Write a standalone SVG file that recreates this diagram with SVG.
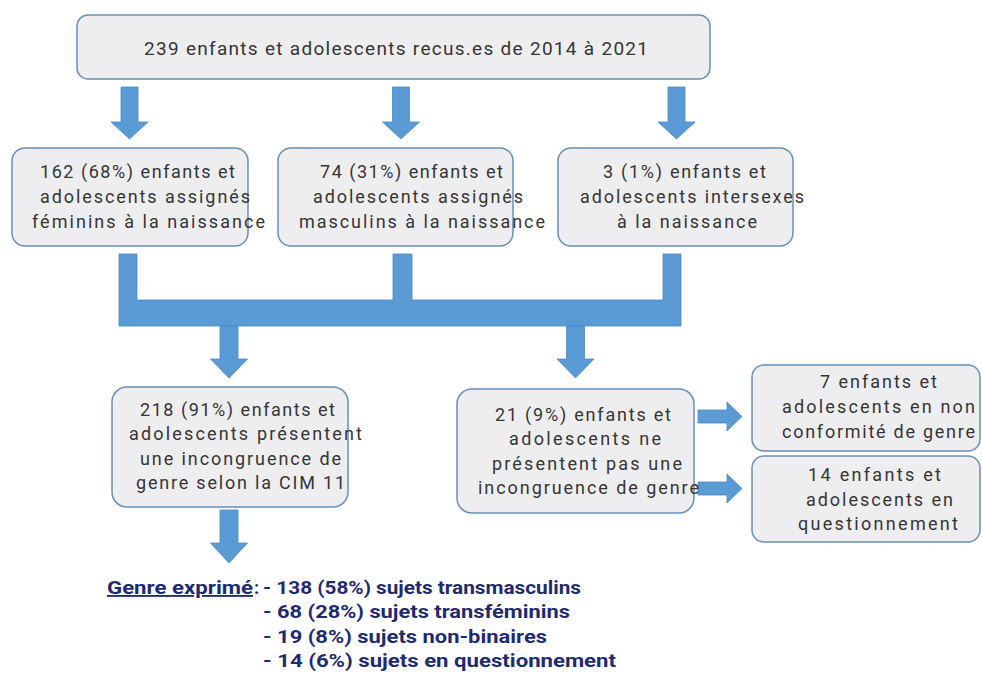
<svg xmlns="http://www.w3.org/2000/svg" width="982" height="688" viewBox="0 0 982 688">
<style>
.box{fill:#eeeef0;stroke:#6b8fb6;stroke-width:1.5}
.arr{fill:#5b9bd5;stroke:#4d89c2;stroke-width:0.8}
.t{font-family:Roboto,"Liberation Sans",sans-serif;font-size:18px;fill:#353535}
.top{font-size:19px}
.b{font-family:Roboto,"Liberation Sans",sans-serif;font-size:18.5px;font-weight:bold;fill:#1f2b6e}
</style>
<rect width="982" height="688" fill="#ffffff"/>
<g id="connectors">
<polygon class="arr" points="121,87 138,87 138,122 148,122 129.5,139 111,122 121,122"/>
<polygon class="arr" points="392.5,87 409.5,87 409.5,122 419.5,122 401,139 382.5,122 392.5,122"/>
<polygon class="arr" points="668,87 685,87 685,122 695,122 676.5,139 658,122 668,122"/>
<path class="arr" d="M119,254 H137 V300 H393 V254 H412 V300 H663 V254 H681 V326 H119 Z"/>
<polygon class="arr" points="220,326 238,326 238,359 247.5,359 229,378 210.5,359 220,359"/>
<polygon class="arr" points="566.5,326 584.5,326 584.5,359 594,359 575.5,378 557,359 566.5,359"/>
<polygon class="arr" points="220,510 238,510 238,543 247.5,543 229,563 210.5,543 220,543"/>
<polygon class="arr" points="698,410 727,410 727,402 742,416.5 727,431 727,423 698,423"/>
<polygon class="arr" points="698,482 727,482 727,474 742,488.5 727,503 727,495 698,495"/>
</g>
<g id="n-total">
<rect class="box" x="77" y="15" width="633" height="64" rx="11"/>
<text class="t top" x="144" y="55" textLength="504" lengthAdjust="spacing">239 enfants et adolescents recus.es de 2014 à 2021</text>
</g>
<g id="n-feminins">
<rect class="box" x="12" y="148" width="236" height="98" rx="13"/>
<text class="t" x="40" y="178" textLength="195" lengthAdjust="spacing">162 (68%) enfants et</text>
<text class="t" x="40" y="203" textLength="210" lengthAdjust="spacing">adolescents assignés</text>
<text class="t" x="32" y="228" textLength="233" lengthAdjust="spacing">féminins à la naissance</text>
</g>
<g id="n-masculins">
<rect class="box" x="278" y="148" width="235" height="98" rx="13"/>
<text class="t" x="320" y="178" textLength="183" lengthAdjust="spacing">74 (31%) enfants et</text>
<text class="t" x="313" y="203" textLength="210" lengthAdjust="spacing">adolescents assignés</text>
<text class="t" x="299" y="228" textLength="246" lengthAdjust="spacing">masculins à la naissance</text>
</g>
<g id="n-intersexes">
<rect class="box" x="558" y="148" width="235" height="98" rx="13"/>
<text class="t" x="603" y="178" textLength="163" lengthAdjust="spacing">3 (1%) enfants et</text>
<text class="t" x="580" y="203" textLength="224" lengthAdjust="spacing">adolescents intersexes</text>
<text class="t" x="617" y="228" textLength="140" lengthAdjust="spacing">à la naissance</text>
</g>
<g id="n-incongruence">
<rect class="box" x="112" y="387" width="236" height="120" rx="15"/>
<text class="t" x="140" y="416" textLength="195" lengthAdjust="spacing">218 (91%) enfants et</text>
<text class="t" x="129" y="440" textLength="233" lengthAdjust="spacing">adolescents présentent</text>
<text class="t" x="140" y="465" textLength="201" lengthAdjust="spacing">une incongruence de</text>
<text class="t" x="136" y="489" textLength="209" lengthAdjust="spacing">genre selon la CIM 11</text>
</g>
<g id="n-pas-incongruence">
<rect class="box" x="457" y="389" width="237" height="124" rx="15"/>
<text class="t" x="495" y="421" textLength="176" lengthAdjust="spacing">21 (9%) enfants et</text>
<text class="t" x="509" y="445" textLength="152" lengthAdjust="spacing">adolescents ne</text>
<text class="t" x="492" y="470" textLength="190" lengthAdjust="spacing">présentent pas une</text>
<text class="t" x="478" y="494" textLength="221" lengthAdjust="spacing">incongruence de genre</text>
</g>
<g id="n-non-conformite">
<rect class="box" x="752" y="365" width="228" height="86" rx="12"/>
<text class="t" x="820" y="388" textLength="117" lengthAdjust="spacing">7 enfants et</text>
<text class="t" x="782" y="413" textLength="193" lengthAdjust="spacing">adolescents en non</text>
<text class="t" x="782" y="438" textLength="193" lengthAdjust="spacing">conformité de genre</text>
</g>
<g id="n-questionnement">
<rect class="box" x="752" y="456" width="228" height="86" rx="12"/>
<text class="t" x="808" y="481" textLength="133" lengthAdjust="spacing">14 enfants et</text>
<text class="t" x="806" y="506" textLength="147" lengthAdjust="spacing">adolescents en</text>
<text class="t" x="798" y="530" textLength="160" lengthAdjust="spacing">questionnement</text>
</g>
<g id="n-genre-exprime">
<text class="b" x="107" y="594" textLength="146" lengthAdjust="spacingAndGlyphs" text-decoration="underline">Genre exprimé</text>
<text class="b" x="254" y="594">:</text>
<text class="b" x="263" y="594" textLength="318" lengthAdjust="spacingAndGlyphs">- 138 (58%) sujets transmasculins</text>
<text class="b" x="263" y="618" textLength="307" lengthAdjust="spacingAndGlyphs">- 68 (28%) sujets transféminins</text>
<text class="b" x="263" y="643" textLength="284" lengthAdjust="spacingAndGlyphs">- 19 (8%) sujets non-binaires</text>
<text class="b" x="263" y="667" textLength="353" lengthAdjust="spacingAndGlyphs">- 14 (6%) sujets en questionnement</text>
</g>
</svg>
